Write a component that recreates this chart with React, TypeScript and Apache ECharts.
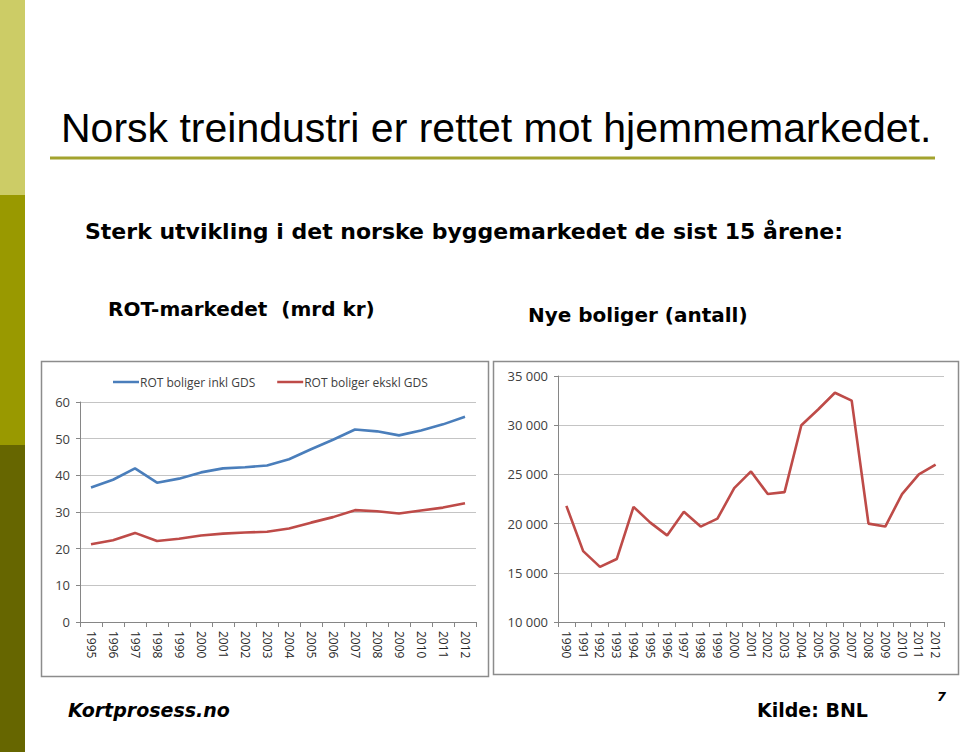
import React, { useEffect, useRef } from "react";
import * as echarts from "echarts";

const rotYears = ["1995","1996","1997","1998","1999","2000","2001","2002","2003","2004","2005","2006","2007","2008","2009","2010","2011","2012"];
const rotInkl = [36.7, 38.8, 41.9, 38.0, 39.1, 40.8, 41.9, 42.2, 42.7, 44.4, 47.1, 49.7, 52.5, 52.0, 50.9, 52.2, 53.9, 56.0];
const rotEkskl = [21.2, 22.3, 24.3, 22.1, 22.7, 23.6, 24.1, 24.4, 24.6, 25.5, 27.1, 28.6, 30.5, 30.2, 29.6, 30.4, 31.2, 32.4];
const boligYears = ["1990","1991","1992","1993","1994","1995","1996","1997","1998","1999","2000","2001","2002","2003","2004","2005","2006","2007","2008","2009","2010","2011","2012"];
const nyeBoliger = [21800, 17200, 15600, 16400, 21700, 20100, 18800, 21200, 19700, 20500, 23600, 25300, 23000, 23200, 30000, 31600, 33300, 32500, 20000, 19700, 23000, 25000, 26000];
const leftSeriesNames = ["ROT boliger inkl GDS", "ROT boliger ekskl GDS"];

const chartFont = "'Open Sans', 'Noto Sans', sans-serif";
const axisGray = "#868686";
const gridGray = "#c4c4c4";
const labelColor = "#404040";

const fmtThousands = (v: number) => String(v).replace(/\B(?=(\d{3})+(?!\d))/g, " ");

export default function App() {
  const ref = useRef<HTMLDivElement>(null);
  useEffect(() => {
    document.body.style.margin = "0";
    const chart = echarts.init(ref.current!, null, { renderer: "svg" });
    const catAxis = (gridIndex: number, data: string[]) => ({
      type: "category",
      gridIndex,
      data,
      boundaryGap: true,
      axisLine: { show: true, lineStyle: { color: axisGray, width: 1 } },
      axisTick: { show: true, interval: 0, length: 5, lineStyle: { color: axisGray } },
      axisLabel: { interval: 0, rotate: -90, margin: 9, color: "#262626", fontSize: 12, fontFamily: chartFont },
    });
    const valAxis = (gridIndex: number, min: number, max: number, interval: number, fmt?: (v: number) => string) => ({
      type: "value",
      gridIndex,
      min,
      max,
      interval,
      axisLine: { show: true, lineStyle: { color: axisGray, width: 1 } },
      axisTick: { show: true, length: 4, lineStyle: { color: axisGray } },
      splitLine: { show: true, lineStyle: { color: gridGray, width: 1 } },
      axisLabel: { color: labelColor, fontSize: 13, fontFamily: chartFont, margin: 10, formatter: fmt },
    });
    const txt = (x: number, y: number, text: string, font: string, extra: any = {}) => ({
      type: "text", x, y, style: { text, fill: "#000", font, verticalAlign: "top", ...extra },
    });
    chart.setOption({
      animation: false,
      backgroundColor: "#ffffff",
      grid: [
        { left: 80, top: 402, right: 484, bottom: 130 },
        { left: 558, top: 376, right: 16, bottom: 130 },
      ],
      xAxis: [catAxis(0, rotYears), catAxis(1, boligYears)],
      yAxis: [
        valAxis(0, 0, 60, 10),
        valAxis(1, 10000, 35000, 5000, fmtThousands),
      ],
      legend: {
        data: leftSeriesNames,
        left: 108,
        top: 371,
        icon: "rect",
        itemWidth: 26,
        itemHeight: 2.5,
        itemGap: 22,
        textStyle: { color: labelColor, fontSize: 12, fontFamily: chartFont, padding: [0, 0, 0, -4] },
      },
      series: [
        {
          name: leftSeriesNames[0], type: "line", xAxisIndex: 0, yAxisIndex: 0, data: rotInkl,
          symbol: "none", lineStyle: { color: "#4a7ebb", width: 2.6 }, itemStyle: { color: "#4a7ebb" },
        },
        {
          name: leftSeriesNames[1], type: "line", xAxisIndex: 0, yAxisIndex: 0, data: rotEkskl,
          symbol: "none", lineStyle: { color: "#be4b48", width: 2.6 }, itemStyle: { color: "#be4b48" },
        },
        {
          name: "Nye boliger", type: "line", xAxisIndex: 1, yAxisIndex: 1, data: nyeBoliger,
          symbol: "none", lineStyle: { color: "#be4b48", width: 2.6 }, itemStyle: { color: "#be4b48" },
        },
      ],
      graphic: [
        { type: "rect", shape: { x: 0, y: 0, width: 25, height: 195 }, style: { fill: "#cccc66" } },
        { type: "rect", shape: { x: 0, y: 195, width: 25, height: 250 }, style: { fill: "#999900" } },
        { type: "rect", shape: { x: 0, y: 445, width: 25, height: 307 }, style: { fill: "#666600" } },
        txt(61, 107, "Norsk treindustri er rettet mot hjemmemarkedet.", "41px 'Liberation Sans', Arial, sans-serif"),
        { type: "line", shape: { x1: 50, y1: 158, x2: 935, y2: 158 }, style: { stroke: "#a3a32e", lineWidth: 3 } },
        txt(85, 220, "Sterk utvikling i det norske byggemarkedet de sist 15 årene:", "bold 22px 'DejaVu Sans', Verdana, sans-serif"),
        txt(108, 299, "ROT-markedet  (mrd kr)", "bold 20px 'DejaVu Sans', Verdana, sans-serif"),
        txt(528, 305, "Nye boliger (antall)", "bold 20px 'DejaVu Sans', Verdana, sans-serif"),
        { type: "rect", shape: { x: 41.5, y: 361.5, width: 447, height: 315 }, style: { fill: "none", stroke: "#8c8c8c", lineWidth: 1.5 } },
        { type: "rect", shape: { x: 493.5, y: 361.5, width: 465, height: 313 }, style: { fill: "none", stroke: "#8c8c8c", lineWidth: 1.5 } },
        txt(68, 700, "Kortprosess.no", "italic bold 19px 'DejaVu Sans', Verdana, sans-serif"),
        txt(757, 700, "Kilde: BNL", "bold 19px 'DejaVu Sans', Verdana, sans-serif"),
        txt(937, 690, "7", "italic bold 13px 'DejaVu Sans', Verdana, sans-serif"),
      ],
    });
    return () => chart.dispose();
  }, []);
  return <div ref={ref} style={{ position: "absolute", left: 0, top: 0, width: 960, height: 752 }} />;
}
